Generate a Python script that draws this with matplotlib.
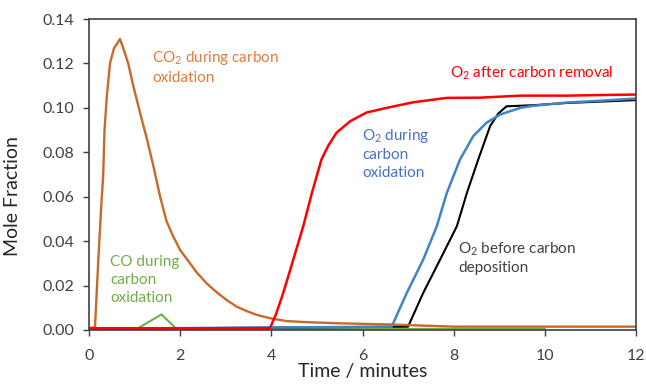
import matplotlib.pyplot as plt

plt.rcParams['font.family'] = ['Lato', 'DejaVu Sans']
plt.rcParams['mathtext.default'] = 'regular'

# Mole fraction traces (time in minutes)
co2_t = [0, 0.13, 0.2, 0.28, 0.31, 0.34, 0.39, 0.46, 0.55, 0.62, 0.68, 0.75, 0.86, 0.97,
         1.08, 1.18, 1.27, 1.41, 1.56, 1.70, 1.85, 2.0, 2.18, 2.36, 2.58, 2.80, 3.02,
         3.24, 3.46, 3.68, 3.97, 4.34, 4.8, 5.5, 6.6, 8, 10, 12]
co2_v = [0.001, 0.001, 0.03, 0.06, 0.069, 0.09, 0.105, 0.12, 0.127, 0.129, 0.131, 0.127,
         0.12, 0.11, 0.101, 0.093, 0.086, 0.074, 0.060, 0.049, 0.042, 0.036, 0.031, 0.026,
         0.021, 0.017, 0.0135, 0.0105, 0.0085, 0.0068, 0.0053, 0.0040, 0.0035, 0.003,
         0.0025, 0.0015, 0.0015, 0.0015]

red_t = [0, 3.97, 4.1, 4.26, 4.48, 4.70, 4.89, 5.10, 5.25, 5.43, 5.73, 6.09, 6.53, 7.11,
         7.85, 8.58, 9.46, 10.5, 11.3, 12]
red_v = [0.0008, 0.0008, 0.007, 0.0166, 0.0316, 0.0467, 0.0617, 0.0768, 0.083, 0.0888,
         0.094, 0.0979, 0.1, 0.1025, 0.1045, 0.1046, 0.1055, 0.1055, 0.1058, 0.106]

blue_t = [0, 6.64, 6.97, 7.33, 7.63, 7.85, 8.14, 8.43, 8.72, 9.02, 9.46, 9.74, 10.48,
          11.21, 12]
blue_v = [0.0005, 0.0015, 0.0166, 0.0316, 0.0467, 0.0617, 0.0768, 0.0873, 0.0933, 0.097,
          0.1, 0.1009, 0.1024, 0.1032, 0.1042]

black_t = [0, 7.0, 7.33, 7.70, 8.07, 8.29, 8.54, 8.80, 8.98, 9.16, 9.74, 10.48, 11.21, 12]
black_v = [0.0005, 0.0015, 0.0166, 0.0316, 0.0467, 0.0617, 0.0768, 0.0918, 0.0975, 0.1007,
           0.1012, 0.1022, 0.1028, 0.1035]

green_t = [0, 1.05, 1.59, 1.92, 10]
green_v = [0.0005, 0.0005, 0.007, 0.0005, 0.0005]

fig = plt.figure(figsize=(6.46, 3.85), dpi=100)
ax = fig.add_axes([0.1378, 0.1429, 0.8467, 0.8077])

ax.plot(green_t, green_v, color='#70AD47', lw=1.5)
ax.plot(black_t, black_v, color='black', lw=1.5)
ax.plot(blue_t, blue_v, color='#3F85C6', lw=1.8)
ax.plot(co2_t, co2_v, color='#C8692A', lw=1.7)
ax.plot(red_t, red_v, color='#FF0000', lw=1.8)

ax.set_xlim(0, 12)
ax.set_ylim(0, 0.14)
ax.set_xticks([0, 2, 4, 6, 8, 10, 12])
ax.set_yticks([0, 0.02, 0.04, 0.06, 0.08, 0.10, 0.12, 0.14])
ax.set_yticklabels(['0.00', '0.02', '0.04', '0.06', '0.08', '0.10', '0.12', '0.14'])
ax.tick_params(direction='out', length=4.5, width=1, colors='#404040',
               labelsize=11.5, top=False, right=False)
ax.tick_params(axis='y', pad=6)
ax.tick_params(axis='x', pad=9)
for s in ax.spines.values():
    s.set_color('#404040')
    s.set_linewidth(1.2)

ax.set_xlabel('Time / minutes', fontsize=14, color='#262626')
ax.set_ylabel('Mole Fraction', fontsize=14, color='#262626')
ax.xaxis.set_label_coords(0.5, -0.105)
ax.yaxis.set_label_coords(-0.124, 0.43)

# curve labels
lab = dict(fontsize=11, ha='left', va='center', linespacing=1.35)
ax.text(1.38, 0.1185, 'CO$_2$ during carbon\noxidation', color='#E07B39', **lab)
ax.text(7.92, 0.1155, 'O$_2$ after carbon removal', color='#FF0000', **lab)
ax.text(5.99, 0.0795, 'O$_2$ during\ncarbon\noxidation', color='#4472C4', **lab)
ax.text(8.10, 0.0325, 'O$_2$ before carbon\ndeposition', color='#404040', **lab)
ax.text(0.46, 0.0225, 'CO during\ncarbon\noxidation', color='#70AD47', **lab)

plt.savefig('out.png', dpi=100)
